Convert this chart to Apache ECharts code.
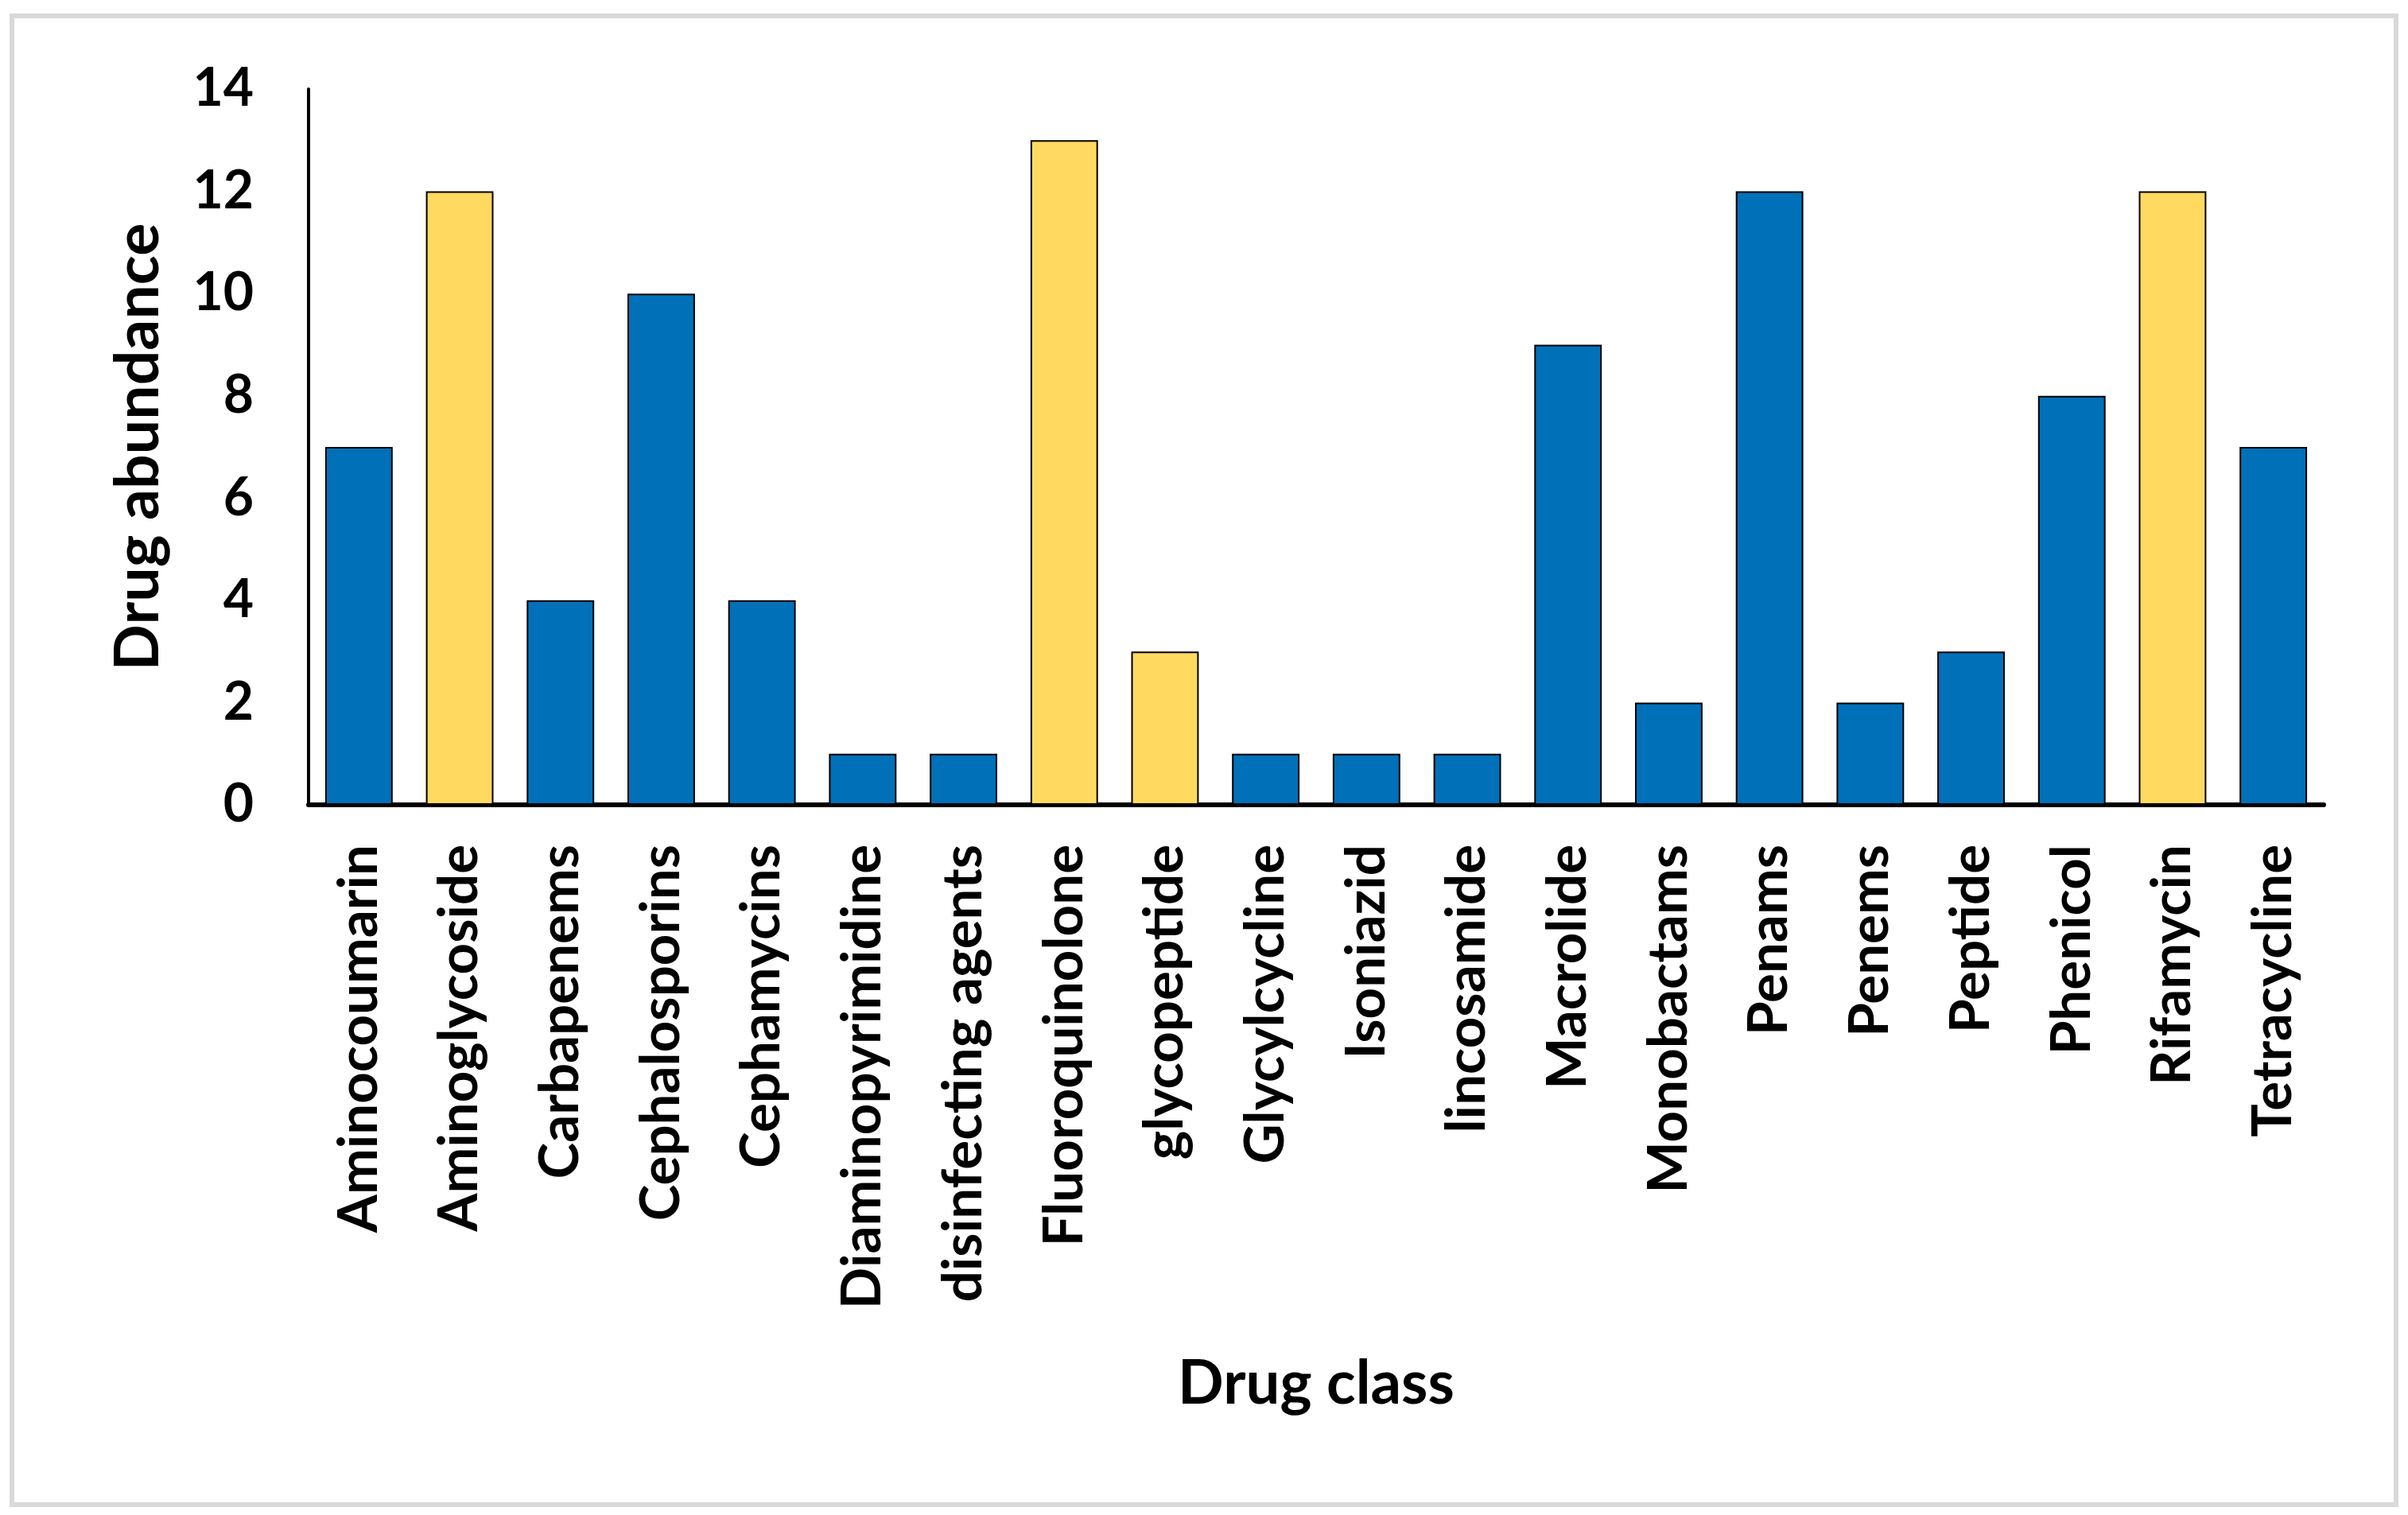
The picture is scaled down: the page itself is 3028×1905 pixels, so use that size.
<!DOCTYPE html>
<html>
<head>
<meta charset="utf-8">
<script src="https://cdn.jsdelivr.net/npm/echarts@6/dist/echarts.min.js"></script>
<style>
html,body{margin:0;padding:0;background:#fff;}
#chart{width:3028px;height:1905px;}
</style>
</head>
<body>
<div id="chart"></div>
<script>
const categories = ["Aminocoumarin","Aminoglycoside","Carbapenems","Cephalosporins","Cephamycins","Diaminopyrimidine","disinfecting agents","Fluoroquinolone","glycopeptide","Glycylcycline","Isoniazid","lincosamide","Macrolide","Monobactams","Penams","Penems","Peptide","Phenicol","Rifamycin","Tetracycline"];
const values = [7,12,4,10,4,1,1,13,3,1,1,1,9,2,12,2,3,8,12,7];
const highlighted = ["Aminoglycoside","Fluoroquinolone","glycopeptide","Rifamycin"];
const yTicks = [0,2,4,6,8,10,12,14];

const BLUE = '#0070B8';
const GOLD = '#FFD960';
const FONT = 'Lato';

const chart = echarts.init(document.getElementById('chart'));
chart.setOption({
  animation: false,
  backgroundColor: '#fff',
  graphic: [{
    type: 'rect',
    shape: {x: 15, y: 20, width: 2998, height: 1872},
    style: {fill: 'none', stroke: '#d9d9d9', lineWidth: 6},
    silent: true
  }],
  grid: {left: 388, right: 106, top: 112, bottom: 893, containLabel: false},
  xAxis: {
    type: 'category',
    data: categories,
    name: 'Drug class',
    nameLocation: 'middle',
    nameGap: 690,
    nameTextStyle: {fontFamily: FONT, fontWeight: 'bold', fontSize: 76, color: '#000'},
    axisLine: {lineStyle: {color: '#000', width: 6}},
    axisTick: {show: false},
    axisLabel: {rotate: 90, interval: 0, margin: 50, fontFamily: FONT, fontWeight: 'bold', fontSize: 69, color: '#000'}
  },
  yAxis: {
    type: 'value',
    min: 0, max: 14, interval: 2,
    name: 'Drug abundance',
    nameLocation: 'middle',
    nameGap: 175,
    nameTextStyle: {fontFamily: FONT, fontWeight: 'bold', fontSize: 77, color: '#000'},
    axisLine: {show: true, lineStyle: {color: '#000', width: 4}},
    axisTick: {show: false},
    splitLine: {show: false},
    axisLabel: {margin: 69, fontFamily: FONT, fontWeight: 'bold', fontSize: 66, color: '#000',
      formatter: v => yTicks.includes(v) ? String(v) : ''}
  },
  series: [{
    type: 'bar',
    barCategoryGap: '33%',
    data: values.map((v, i) => ({
      value: v,
      itemStyle: {color: highlighted.includes(categories[i]) ? GOLD : BLUE, borderColor: '#000', borderWidth: 2}
    }))
  }]
});
</script>
</body>
</html>
